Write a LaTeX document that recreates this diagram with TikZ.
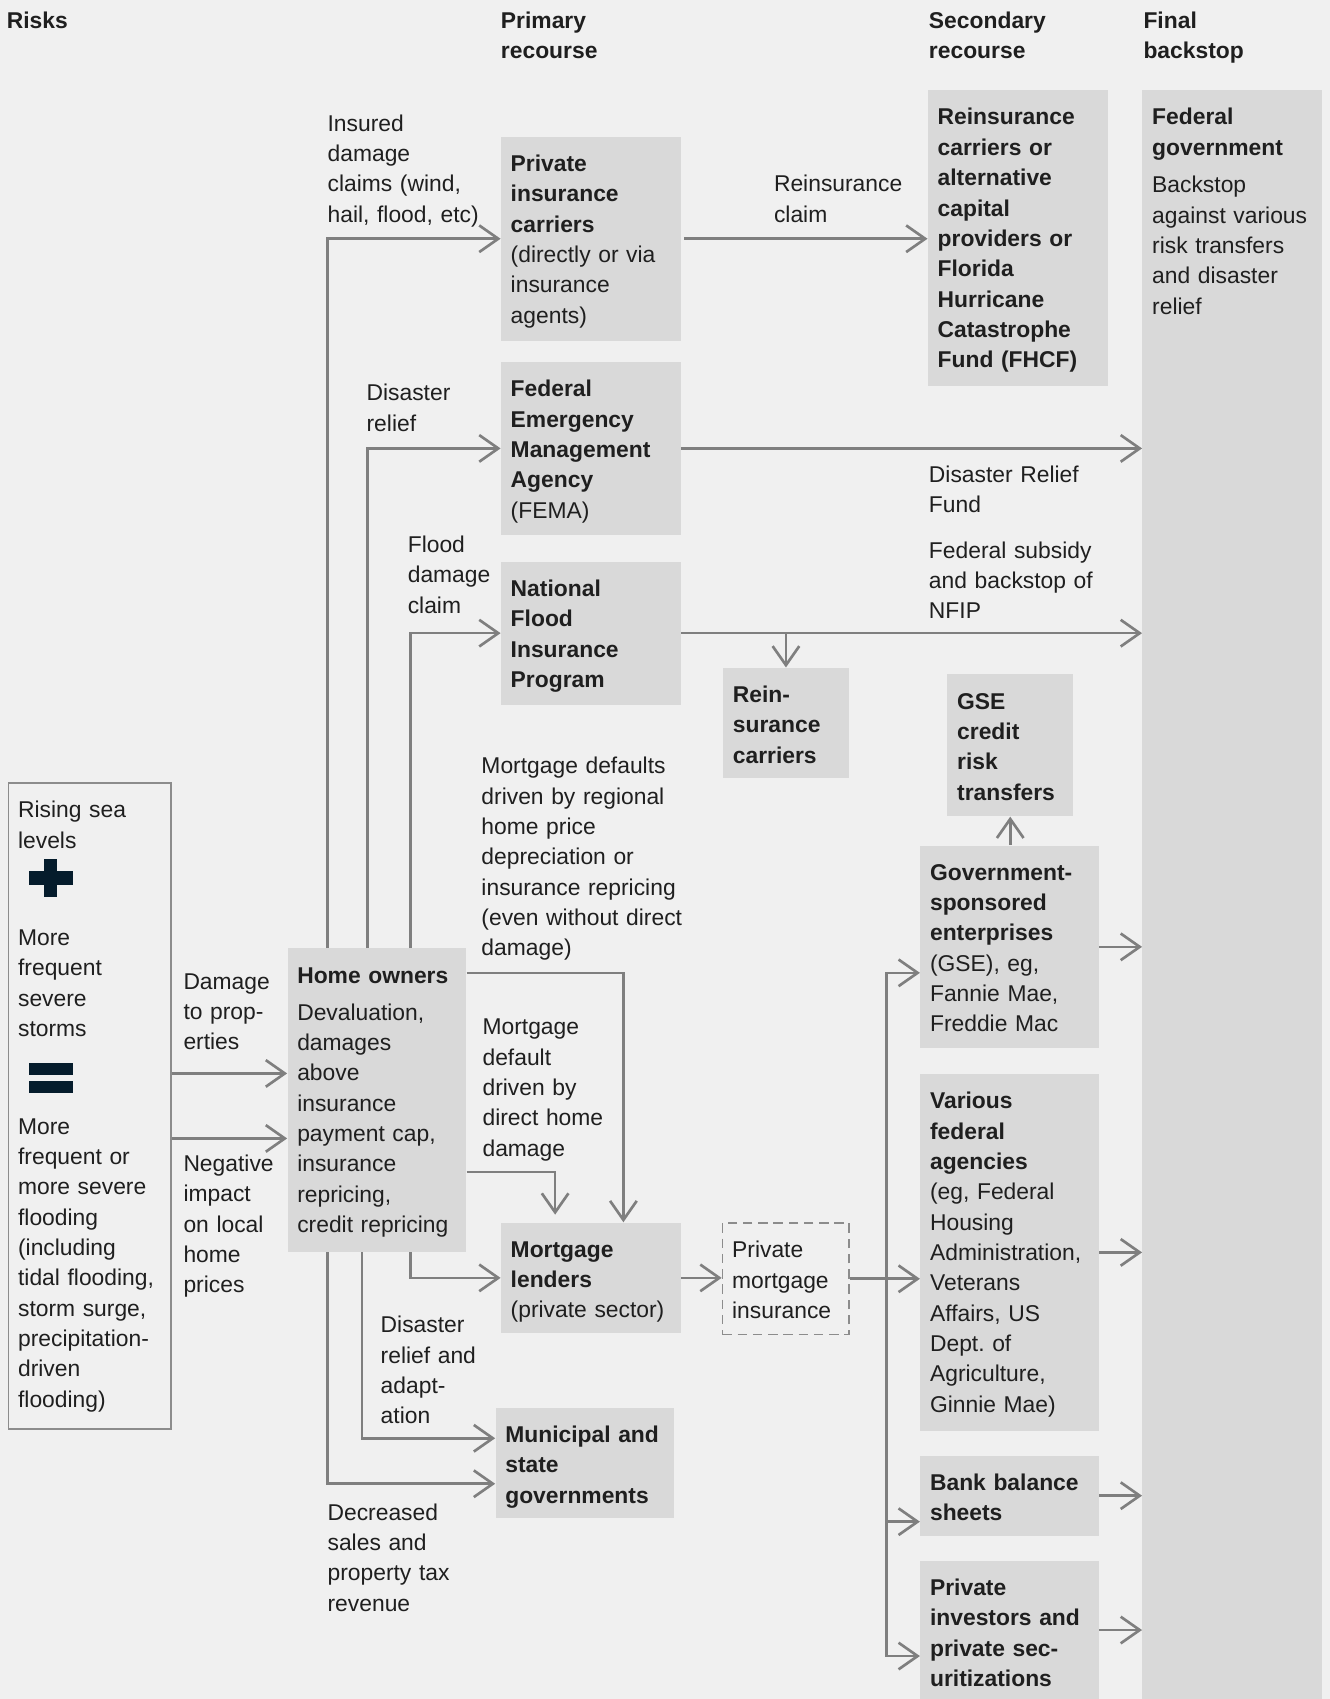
\documentclass[tikz,border=0pt]{standalone}
\usepackage{fontspec}
\setmainfont{Liberation Sans}
\usepackage{xcolor}
\usepackage{tikz}
\usetikzlibrary{arrows.meta}
\definecolor{paper}{HTML}{F0F0F0}
\definecolor{panelgray}{HTML}{D9D9D9}
\definecolor{wiregray}{HTML}{7F7F7F}
\definecolor{rulegray}{HTML}{8C8C8C}
\definecolor{navy}{HTML}{051C2C}
\definecolor{ink}{HTML}{1F1F1F}
\newcommand{\boxtitle}[1]{\textbf{#1}}
\frenchspacing

\begin{document}
\begin{tikzpicture}[x=0.02cm,y=-0.02cm,
    every node/.style={font=\fontsize{12pt}{15.94pt}\selectfont,text=ink},
    head/.style={anchor=base west,inner sep=0pt,text width=3cm,align=left,font=\fontsize{12pt}{15.94pt}\selectfont\bfseries},
    note/.style={anchor=base west,inner sep=0pt,text width=4.2cm,align=left},
    panel/.style={anchor=north west,fill=panelgray,inner xsep=0.18cm,inner ysep=0pt,text height=0.64cm,align=left},
    wire/.style={draw=wiregray,line width=1.4pt},
    flow/.style={wire,-{Straight Barb[length=10pt,width=14pt]}}]
    \useasboundingbox (0,0) rectangle (1227,1568);
    \fill[paper] (0,0) rectangle (1227,1568);
    % column heads
    \node[head] (hrisks) at (6,26) {Risks};
    \node[head] (hprimary) at (462,26) {Primary\\recourse};
    \node[head] (hsecondary) at (857,26) {Secondary\\recourse};
    \node[head] (hfinal) at (1055,26) {Final\\backstop};
    % boxes
    \node[panel,text width=2.96cm,text depth=3.12cm] (pic) at (462,126) {\boxtitle{Private\\insurance\\carriers}\\(directly or via\\insurance\\agents)};
    \node[panel,text width=2.96cm,text depth=2.54cm] (fema) at (462,334) {\boxtitle{Federal\\Emergency\\Management\\Agency}\\(FEMA)};
    \node[panel,text width=2.96cm,text depth=2.0cm] (nfip) at (462,518) {\boxtitle{National\\Flood\\Insurance\\Program}};
    \node[panel,text width=2.96cm,text depth=4.82cm] (reins) at (856,83) {\boxtitle{Reinsurance\\carriers or\\alternative\\capital\\providers or\\Florida\\Hurricane\\Catastrophe\\Fund (FHCF)}};
    \node[panel,text width=2.96cm,text depth=29.06cm] (fed) at (1054,83) {\boxtitle{Federal\\government}\\[0.13cm]Backstop\\against various\\risk transfers\\and disaster\\relief};
    \node[panel,text width=1.96cm,text depth=1.4cm] (reins2) at (667,616) {\boxtitle{Rein-\\surance\\carriers}};
    \node[panel,text width=1.96cm,text depth=1.98cm] (crt) at (874,622) {\boxtitle{GSE\\credit\\risk\\transfers}};
    \node[panel,text width=2.94cm,text depth=3.1cm] (gse) at (849,780) {\boxtitle{Government-\\sponsored\\enterprises}\\(GSE), eg,\\Fannie Mae,\\Freddie Mac};
    \node[panel,text width=2.94cm,text depth=5.94cm] (agencies) at (849,991) {\boxtitle{Various\\federal\\agencies}\\(eg, Federal\\Housing\\Administration,\\Veterans\\Affairs, US\\Dept. of\\Agriculture,\\Ginnie Mae)};
    \node[panel,text width=2.94cm,text depth=0.84cm] (bank) at (849,1343) {\boxtitle{Bank balance\\sheets}};
    \node[panel,text width=2.94cm,text depth=1.92cm] (investors) at (849,1440) {\boxtitle{Private\\investors and\\private sec-\\uritizations}};
    \node[panel,text width=2.94cm,text depth=4.96cm] (home) at (265,875) {\boxtitle{Home owners}\\[0.12cm]Devaluation,\\damages\\above\\insurance\\payment cap,\\insurance\\repricing,\\credit repricing};
    \node[panel,text width=2.96cm,text depth=1.4cm] (lenders) at (462,1128) {\boxtitle{Mortgage\\lenders}\\(private sector)};
    \node[panel,fill=none,draw=rulegray,line width=0.8pt,dash pattern=on 5pt off 3pt,text width=1.98cm,text depth=1.42cm] (pmi) at (666,1128) {Private\\mortgage\\insurance};
    \node[panel,text width=2.94cm,text depth=1.4cm] (muni) at (457,1299) {\boxtitle{Municipal and\\state\\governments}};
    \node[panel,fill=none,draw=rulegray,line width=0.8pt,text width=2.64cm,text depth=11.28cm] (risks) at (7,722) {Rising sea\\levels\\[1.24cm]More\\frequent\\severe\\storms\\[1.24cm]More\\frequent or\\more severe\\flooding\\(including\\tidal flooding,\\storm surge,\\precipitation-\\driven\\flooding)};
    % plus and equals signs
    \fill[navy] (41,793) rectangle (53,828);
    \fill[navy] (27,804) rectangle (67,817);
    \fill[navy] (27,981) rectangle (67,992);
    \fill[navy] (27,998) rectangle (67,1009);
    % flow labels
    \node[note] (lclaims) at (302,121) {Insured\\damage\\claims (wind,\\hail, flood, etc)};
    \node[note] (lreclaim) at (714,177) {Reinsurance\\claim};
    \node[note] (lrelief) at (338,370) {Disaster\\relief};
    \node[note] (lfund) at (857,445) {Disaster Relief\\Fund};
    \node[note] (lsubsidy) at (857,515) {Federal subsidy\\and backstop of\\NFIP};
    \node[note] (lflood) at (376,510) {Flood\\damage\\claim};
    \node[note] (ldefaults) at (444,714) {Mortgage defaults\\driven by regional\\home price\\depreciation or\\insurance repricing\\(even without direct\\damage)};
    \node[note] (ldirect) at (445,955) {Mortgage\\default\\driven by\\direct home\\damage};
    \node[note] (ldamage) at (169,913) {Damage\\to prop-\\erties};
    \node[note] (lnegative) at (169,1081) {Negative\\impact\\on local\\home\\prices};
    \node[note] (ladapt) at (351,1230) {Disaster\\relief and\\adapt-\\ation};
    \node[note] (ltax) at (302,1403) {Decreased\\sales and\\property tax\\revenue};
    % risks to home owners
    \draw[flow] ([yshift=0.6cm]risks.east) -- ([yshift=0.6cm]risks.east -| home.west);
    \draw[flow] ([yshift=-0.6cm]risks.east) -- ([yshift=-0.6cm]risks.east -| home.west);
    % home owners upwards
    \draw[flow] ([xshift=0.74cm]home.north west) |- (pic);
    \draw[flow] ([xshift=1.48cm]home.north west) |- (fema);
    \draw[flow] ([xshift=2.28cm]home.north west) |- (nfip);
    % home owners downwards
    \draw[flow] ([xshift=2.28cm]home.south west) |- (lenders);
    \draw[flow] ([xshift=1.38cm]home.south west) |- ([yshift=0.46cm]muni.west);
    \draw[flow] ([xshift=0.74cm]home.south west) |- ([yshift=-0.38cm]muni.west);
    \draw[flow] ([yshift=-0.46cm]home.north east) -| ([xshift=0.6cm]lenders.north);
    \draw[flow] ([yshift=1.48cm]home.south east) -| ([xshift=-0.66cm,yshift=0.14cm]lenders.north);
    % primary to secondary and final
    \draw[flow,shorten <=0.06cm] (pic) -- (pic -| reins.west);
    \draw[flow] (fema) -- (fema -| fed.west);
    \draw[flow] (nfip) -- (nfip -| fed.west);
    \draw[flow] (nfip.east -| reins2) -- (reins2);
    % mortgage chain
    \draw[flow] (lenders) -- (lenders -| pmi.west);
    \path (pmi.east) ++(34,0) coordinate (fork);
    \draw[wire] (pmi) -- (fork);
    \draw[flow] (fork) |- ([yshift=-0.48cm]gse.west);
    \draw[flow] (fork) -- (fork -| agencies.west);
    \draw[flow] (fork) |- ([yshift=-0.48cm]bank.west);
    \draw[flow] (fork) |- ([yshift=-0.48cm]investors.west);
    \draw[flow] (gse.north -| crt) -- (crt);
    \foreach \src in {gse,agencies,bank,investors}
      \draw[flow] (\src) -- (\src -| fed.west);
\end{tikzpicture}
\end{document}
